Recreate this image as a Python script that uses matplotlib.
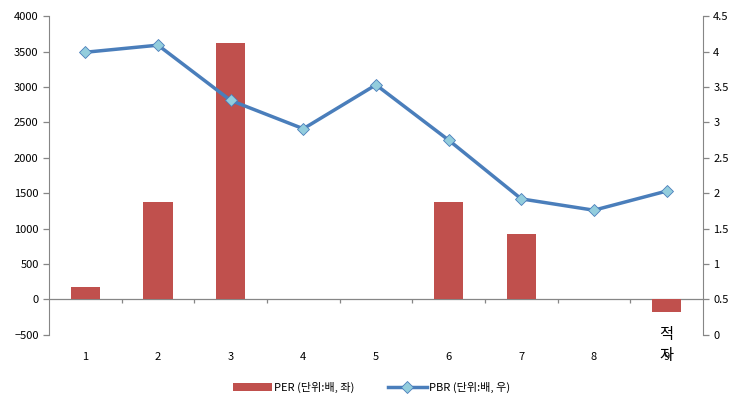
import matplotlib.pyplot as plt
import numpy as np

plt.rcParams['font.family'] = ['Noto Sans CJK KR', 'DejaVu Sans']

# 데이터
categories = ["1", "2", "3", "4", "5", "6", "7", "8", "9"]
per = [170, 1380, 3620, 0, 0, 1370, 930, 0, -170]
pbr = [3.99, 4.09, 3.31, 2.91, 3.53, 2.75, 1.92, 1.76, 2.03]
deficit_label = "적\n자"

axis_gray = '#868686'
x = np.arange(len(categories))

fig = plt.figure(figsize=(7.43, 4.03), dpi=100)
ax = fig.add_axes([0.066, 0.169, 0.88, 0.791])
ax2 = ax.twinx()

bars = ax.bar(x, per, width=0.4, color='#C0504D', zorder=2, label='PER (단위:배, 좌)')
line, = ax2.plot(x, pbr, color='#4A7EBB', lw=2.5, marker='D', markersize=6,
                 markerfacecolor='#93CDDD', markeredgecolor='#4A7EBB', markeredgewidth=0.6,
                 label='PBR (단위:배, 우)', zorder=3)

ax.set_xlim(-0.5, len(categories) - 0.5)
ax.set_ylim(-500, 4000)
ax.set_yticks(np.arange(-500, 4001, 500))
ax2.set_ylim(0, 4.5)
ax2.set_yticks(np.arange(0, 4.51, 0.5))
ax2.set_yticklabels(['0', '0.5', '1', '1.5', '2', '2.5', '3', '3.5', '4', '4.5'])

# x축 (0 위치 기준선과 구분 눈금)
ax.axhline(0, color=axis_gray, lw=0.9, zorder=1)
ax.vlines(x[:-1] + 0.5, -55, 0, color=axis_gray, lw=0.9)
ax.set_xticks(x)
ax.set_xticklabels(categories)
ax.tick_params(axis='x', length=0, pad=12, labelsize=8)
ax.text(x[-1], -375, deficit_label, ha='center', va='top', fontsize=11,
        linespacing=1.3, clip_on=False, zorder=5)

for a in (ax, ax2):
    for s in ('top', 'bottom'):
        a.spines[s].set_visible(False)
    a.tick_params(axis='y', length=4, width=0.9, color=axis_gray, labelsize=8)
ax.spines['right'].set_visible(False)
ax.spines['left'].set_color(axis_gray)
ax2.spines['left'].set_visible(False)
ax2.spines['right'].set_color(axis_gray)

fig.legend(handles=[bars, line], loc='lower center', bbox_to_anchor=(0.5, 0.0),
           ncol=2, frameon=False, fontsize=8, handlelength=3.5, columnspacing=3,
           handletextpad=0.2)

fig.savefig('out.png', dpi=100)
